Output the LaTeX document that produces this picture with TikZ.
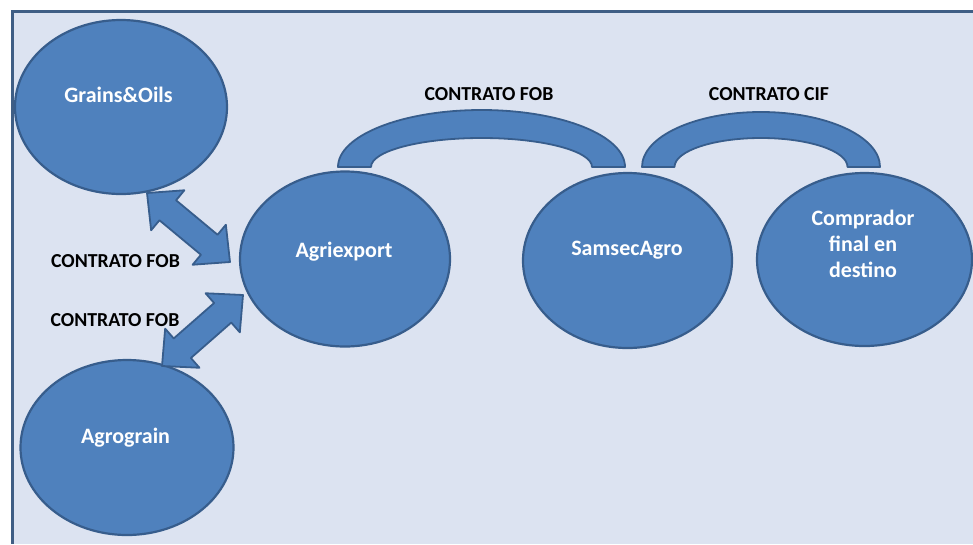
\documentclass[tikz,border=0pt]{standalone}
\usepackage{fontspec}
\setmainfont{Carlito}
\usetikzlibrary{shapes.geometric,calc}

\definecolor{panelbg}{HTML}{DCE3F1}
\definecolor{panelframe}{HTML}{3F5E85}
\definecolor{bubble}{HTML}{4F81BD}
\definecolor{bubbleedge}{HTML}{375D8C}

\tikzset{
  bubblenode/.style={ellipse, draw=bubbleedge, fill=bubble, line width=2.2pt, inner sep=0pt},
  intext/.style={text=white, font=\bfseries\fontsize{22}{26}\selectfont, align=center, anchor=base, inner sep=0pt},
  contract/.style={text=black, font=\bfseries\fontsize{19.8}{23}\selectfont, anchor=base, inner sep=0pt},
  blockshape/.style={draw=bubbleedge, fill=bubble, line width=1.8pt, line join=round},
}

% two-headed block arrow between two named coordinates
\newcommand\dblarrow[2]{%
  \coordinate (#1-h) at ($(#1)!27pt!(#2)$);
  \coordinate (#2-h) at ($(#2)!27pt!(#1)$);
  \draw[blockshape] (#1)
    -- ($(#1-h)!26pt!90:(#2)$)
    -- ($(#1-h)!13pt!90:(#2)$)
    -- ($(#2-h)!13pt!-90:(#1)$)
    -- ($(#2-h)!26pt!-90:(#1)$)
    -- (#2)
    -- ($(#2-h)!26pt!90:(#1)$)
    -- ($(#2-h)!13pt!90:(#1)$)
    -- ($(#1-h)!13pt!-90:(#2)$)
    -- ($(#1-h)!26pt!-90:(#2)$)
    -- cycle;}

\begin{document}
\begin{tikzpicture}[x=1pt, y=-1pt]
  \useasboundingbox (0,0) rectangle (973,544);
  \fill[white] (0,0) rectangle (973,544);
  \fill[panelbg] (11,11) rectangle (973,544);
  \draw[panelframe, line width=3pt] (973,11) -- (12,11) -- (12,544);

  % parties
  \node[bubblenode, minimum width=212, minimum height=174] (grains) at (121,107) {};
  \node[bubblenode, minimum width=210, minimum height=175] (agri) at (345,259) {};
  \node[bubblenode, minimum width=213, minimum height=175] (agro) at (127,447.5) {};
  \node[bubblenode, minimum width=209, minimum height=175] (samsec) at (627.5,260.5) {};
  \node[bubblenode, minimum width=215, minimum height=173] (buyer) at (864.5,259.5) {};

  \node[intext] (grainsT) at (118.5,102) {Grains\&Oils};
  \node[intext] (agriT) at (344,257) {Agriexport};
  \node[intext] (agroT) at (125.5,443) {Agrograin};
  \node[intext] (samsecT) at (627,255) {SamsecAgro};
  % base of a multi-line node is its last line
  \node[intext] (buyerT) at (863,277) {Comprador\\final en\\destino};

  % FOB block arrows on the left
  \coordinate (g1) at (147,193);
  \coordinate (a1) at (230,262);
  \dblarrow{g1}{a1}
  \coordinate (g2) at (162,366);
  \coordinate (a2) at (243,295);
  \dblarrow{g2}{a2}

  % block arcs over the sea contracts
  \coordinate (fob) at (481.5,167);
  \draw[blockshape] ($(fob)+(-143.5,0)$)
    arc[start angle=180, end angle=360, x radius=143.5, y radius=57]
    -- ($(fob)+(110.5,0)$)
    arc[start angle=360, end angle=180, x radius=110.5, y radius=29]
    -- cycle;
  \coordinate (cif) at (761,167);
  \draw[blockshape] ($(cif)+(-119,0)$)
    arc[start angle=180, end angle=360, x radius=119, y radius=55]
    -- ($(cif)+(86.5,0)$)
    arc[start angle=360, end angle=180, x radius=86.5, y radius=29]
    -- cycle;

  % contract labels
  \node[contract] (fobT) at (489,100) {CONTRATO FOB};
  \node[contract] (cifT) at (769,100) {CONTRATO CIF};
  \node[contract] (fobL1) at (115.5,267) {CONTRATO FOB};
  \node[contract] (fobL2) at (115,326) {CONTRATO FOB};
\end{tikzpicture}
\end{document}
